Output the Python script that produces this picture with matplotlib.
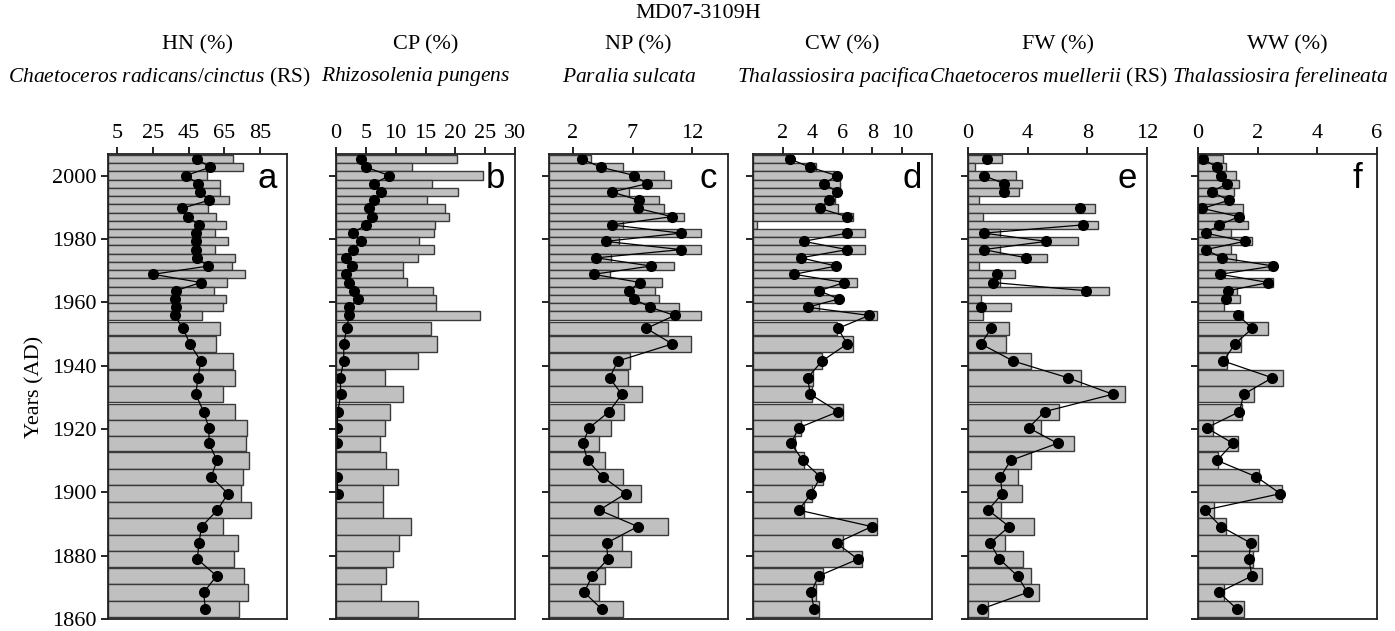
import numpy as np
import matplotlib.pyplot as plt

plt.rcParams['font.family'] = 'Liberation Serif'
plt.rcParams['mathtext.fontset'] = 'custom'
plt.rcParams['mathtext.it'] = 'Liberation Serif:italic'
plt.rcParams['mathtext.rm'] = 'Liberation Serif'

nan = np.nan

# sample ages (AD)
years = [2005.3, 2002.7, 2000.1, 1997.5, 1994.9, 1992.3, 1989.7, 1987.1, 1984.5, 1981.9,
         1979.3, 1976.7, 1974.1, 1971.5, 1968.9, 1966.3, 1963.7, 1961.1, 1958.5, 1955.9,
         1951.8, 1946.9, 1941.5, 1936.2, 1931.0, 1925.5, 1920.4, 1915.5, 1910.1, 1904.9,
         1899.6, 1894.4, 1889.2, 1884.0, 1878.9, 1873.6, 1868.4, 1863.2]

# group percentages (bars) and species percentages (dots)
hn = [70, 75.2, 55.1, 62.8, 62.4, 67.8, 56.1, 60.3, 66.1, 60, 67.2, 60, 71.1, 69.1, 76.4, 66.7,
      59.2, 65.7, 64.2, 52.3, 62.8, 60.1, 69.6, 70.9, 64.4, 70.8, 77.8, 77.1, 78.6, 75.4, 74.1,
      80.1, 64.1, 72.6, 70.6, 75.8, 78.4, 73]
radicans = [49.9, 57, 43.6, 50.3, 51.4, 56.4, 41.2, 44.5, 50.7, 49.2, 49.2, 49, 49.5, 55.9, 25.3,
            51.8, 37.8, 37.2, 38.2, 37.2, 41.9, 45.8, 51.8, 50.3, 49, 53.4, 56.4, 56.4, 60.9, 57.7,
            67, 61.1, 52.3, 50.8, 49.9, 60.7, 53.4, 54.4]

cp = [20.3, 12.8, 24.7, 16.1, 20.4, 15.3, 18.2, 18.9, 16.6, 16.4, 13.9, 16.4, 13.7, 11.3, 11.3,
      11.9, 16.3, 16.7, 16.7, 24.1, 16.0, 17.0, 13.7, 8.2, 11.3, 9.1, 8.2, 7.3, 8.3, 10.4, 7.8,
      7.8, 12.5, 10.6, 9.5, 8.4, 7.5, 13.7]
pungens = [4.2, 5.1, 8.9, 6.4, 7.6, 6.4, 5.5, 6.1, 5.0, 2.8, 4.2, 2.8, 1.6, 2.7, 1.7, 2.2, 3.1,
           3.7, 2.2, 2.2, 1.8, 1.3, 1.3, 0.7, 0.8, 0.3, 0.2, 0.2, nan, 0.2, 0.3, nan, nan, nan,
           nan, nan, nan, nan]

np_ = [3.5, 6.2, 9.6, 10.2, 6.7, 9.2, 9.6, 11.3, 6.2, 12.7, 5.9, 12.7, 5.2, 10.5, 5.1, 9.5, 8.9,
       9.2, 10.9, 12.7, 10.0, 11.9, 6.8, 6.6, 7.8, 6.3, 5.2, 4.2, 4.7, 6.2, 7.7, 5.8, 10.0, 6.1,
       6.9, 4.7, 4.2, 6.2]
sulcata = [2.76, 4.37, 7.16, 8.19, 5.29, 7.52, 7.49, 10.28, 5.26, 11.06, 4.74, 11.06, 3.98, 8.55,
           3.73, 7.63, 6.69, 7.1, 8.47, 10.53, 8.16, 10.33, 5.77, 5.07, 6.1, 5.04, 3.37, 2.84,
           3.23, 4.51, 6.43, 4.21, 7.44, 4.82, 4.93, 3.62, 2.95, 4.4]

cw = [2.3, 4.25, 5.5, 5.8, 5.6, 5.5, 5.7, 6.7, 0.3, 7.5, 3.6, 7.5, 3.4, 5.6, 2.9, 7.0, 4.7, 5.9,
      4.4, 8.3, 5.6, 6.7, 4.6, 4.0, 3.95, 6.0, 3.2, 2.8, 3.4, 4.7, 3.95, 3.4, 8.3, 6.0, 7.3, 4.7,
      4.25, 4.4]
pacifica = [2.49, 3.84, 5.6, 4.79, 5.64, 5.12, 4.49, 6.31, nan, 6.31, 3.39, 6.31, 3.21, 5.57,
            2.76, 6.13, 4.43, 5.75, 3.66, 7.78, 5.69, 6.31, 4.63, 3.66, 3.84, 5.71, 3.06, 2.56,
            3.33, 4.52, 3.91, 3.06, 7.96, 5.6, 7.03, 4.4, 3.89, 4.09]

fw = [2.3, 0.45, 3.2, 3.6, 3.4, 0.76, 8.54, 0.99, 8.74, 2.17, 7.4, 2.17, 5.31, 0.76, 3.18, 2.17,
      9.48, 0.87, 2.91, 0.99, 2.74, 2.56, 4.22, 7.58, 10.5, 6.1, 4.9, 7.1, 4.24, 3.34, 3.59,
      2.24, 4.4, 2.47, 3.68, 4.22, 4.75, 1.35]
muellerii = [1.3, nan, 1.05, 2.44, 2.44, nan, 7.51, nan, 7.69, 1.05, 5.25, 1.05, 3.92, nan, 1.95,
             1.66, 7.94, nan, 0.87, nan, 1.55, 0.87, 3.03, 6.7, 9.71, 5.13, 4.06, 6.0, 2.87,
             2.17, 2.29, 1.35, 2.76, 1.48, 2.11, 3.32, 3.99, 0.92]

ww = [0.85, 0.94, 1.27, 1.39, 1.21, 1.15, 1.52, 1.52, 1.69, 1.11, 1.8, 1.11, 1.27, 2.6, 0.9, 2.5,
      1.32, 1.41, 0.88, 1.52, 2.34, 1.44, 0.96, 2.84, 1.87, 1.46, 0.49, 1.33, 0.68, 2.06, 2.8,
      0.54, 0.94, 2.0, 1.85, 2.16, 0.87, 1.55]
ferelineata = [0.18, 0.63, 0.77, 0.96, 0.46, 1.04, 0.15, 1.37, 0.72, 0.26, 1.56, 0.26, 0.79, 2.53,
               0.74, 2.36, 1.01, 0.94, nan, 1.35, 1.82, 1.24, 0.85, 2.49, 1.53, 1.39, 0.29, 1.17,
               0.64, 1.96, 2.76, 0.23, 0.77, 1.77, 1.7, 1.81, 0.7, 1.3]

groups = ['HN (%)', 'CP (%)', 'NP (%)', 'CW (%)', 'FW (%)', 'WW (%)']
species = [r'$\it{Chaetoceros\ radicans/cinctus}$ (RS)', r'$\it{Rhizosolenia\ pungens}$',
           r'$\it{Paralia\ sulcata}$', r'$\it{Thalassiosira\ pacifica}$',
           r'$\it{Chaetoceros\ muellerii}$ (RS)', r'$\it{Thalassiosira\ ferelineata}$']
bar_data = [hn, cp, np_, cw, fw, ww]
dot_data = [radicans, pungens, sulcata, pacifica, muellerii, ferelineata]
xlims = [(0, 100), (0, 30), (0, 15), (0, 12), (0, 12), (0, 6)]
xticks = [[5, 25, 45, 65, 85], [0, 5, 10, 15, 20, 25, 30], [2, 7, 12], [2, 4, 6, 8, 10],
          [0, 4, 8, 12], [0, 2, 4, 6]]
letters = ['a', 'b', 'c', 'd', 'e', 'f']

# bar thickness = distance to the nearest neighbouring sample
y = np.array(years)
gaps = np.abs(np.diff(y))
heights = np.minimum(np.r_[gaps[0], gaps], np.r_[gaps, gaps[-1]])

W, H = 1395, 631
fig = plt.figure(figsize=(W / 100, H / 100), dpi=100)
lefts = [108, 336, 549, 753, 968, 1198]
species_x = [160, 416, 629, 833, 1048, 1280]
top, bottom, pw = 154, 619, 179

for i in range(6):
    ax = fig.add_axes([lefts[i] / W, 1 - bottom / H, pw / W, (bottom - top) / H])
    ax.barh(y, bar_data[i], height=heights, color='#c0c0c0', edgecolor='#3a3a3a', linewidth=1)
    ax.plot(dot_data[i], y, '-o', color='black', lw=0.9, ms=7)
    ax.set_xlim(xlims[i])
    ax.set_ylim(1860, 2006.9)
    ax.xaxis.tick_top()
    ax.set_xticks(xticks[i])
    ax.set_yticks(range(1860, 2001, 20))
    if i > 0:
        ax.set_yticklabels([])
    else:
        ax.set_ylabel('Years (AD)', fontsize=16, labelpad=6)
    ax.tick_params(direction='out', length=5, width=1.2, labelsize=16, pad=3)
    for s in ax.spines.values():
        s.set_linewidth(1.3)
        s.set_color('#222222')
    ax.text(0.89, 0.927, letters[i], transform=ax.transAxes, family='Liberation Sans',
            fontsize=25, ha='center', va='baseline')
    fig.text((lefts[i] + pw / 2) / W, 1 - 45 / H, groups[i], ha='center', va='center', fontsize=16)
    fig.text(species_x[i] / W, 1 - 77 / H, species[i], ha='center', va='center', fontsize=15.5)

fig.text(698 / W, 1 - 14 / H, 'MD07-3109H', ha='center', va='center', fontsize=16)

fig.savefig('out.png', dpi=100)
